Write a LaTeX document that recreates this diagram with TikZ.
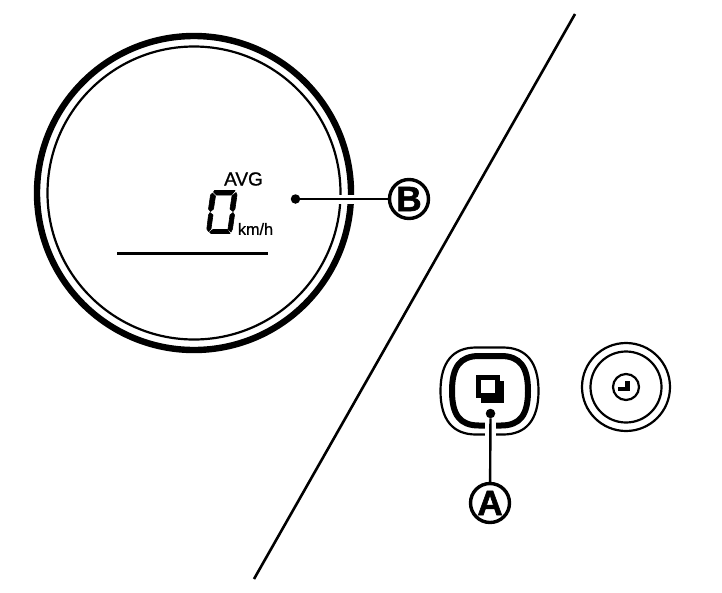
\documentclass[tikz,border=0pt]{standalone}
\usepackage{fontspec}
\setmainfont{Liberation Sans}
\newfontfamily\heavyfont[FakeBold=1.6]{Liberation Sans Bold}
\newfontfamily\semifont[FakeBold=0.9]{Liberation Sans}
\tikzset{
  ringthin/.style={draw=black,line width=2.2pt},
  ringthick/.style={draw=black,line width=6.4pt},
  leader/.style={draw=black,line width=2.4pt},
  tipdot/.style={circle,fill=black,inner sep=0pt,minimum size=9.5pt},
  callout/.style={circle,draw=black,line width=3.4pt,fill=white,minimum size=39pt,inner sep=0pt,font=\fontsize{35}{35}\heavyfont},
  seg/.style={fill=black,draw=black,line width=.6pt,line join=round}
}
\begin{document}
\begin{tikzpicture}[x=1pt,y=-1pt]
\useasboundingbox (0,0) rectangle (722,592);
\fill[white] (0,0) rectangle (722,592);
% gauge
\draw[ringthick] (194,193) circle (157);
\draw[ringthin] (194,193) circle (146.5);
% divider
\coordinate (d1) at (575,14);
\coordinate (d2) at (254,579);
\draw[black,line width=2.6pt] (d1) -- (d2);
% bar
\coordinate (b1) at (117,253);
\coordinate (b2) at (268,253);
\draw[black,line width=3pt] (b1) -- (b2);
% texts
\node[inner sep=0pt,font=\fontsize{19}{19}\semifont] (avg) at (243.5,179) {AVG};
\node[inner sep=0pt,font=\fontsize{16.2}{16.2}\semifont] (kmh) at (255.5,229) {km/h};
% seven-segment 0
\fill[seg] (214.5,190.5) -- (235,190.5) -- (234,192) -- (231.5,195) -- (216.5,195) -- (213.5,192) -- cycle;
\fill[seg] (212.5,193) -- (215.5,196) -- (213.5,209) -- (210.5,211.5) -- (208.5,209) -- (210.5,195) -- cycle;
\fill[seg] (236,192.5) -- (237,195) -- (235,209) -- (233,211.5) -- (230,209) -- (232,196) -- cycle;
\fill[seg] (210,212.5) -- (213,215) -- (211,229) -- (208.5,231.5) -- (206.8,229) -- (208.5,215) -- cycle;
\fill[seg] (233,212.5) -- (234.5,215) -- (232.5,229) -- (231,232) -- (228,229) -- (230,215) -- cycle;
\fill[seg] (213,229.5) -- (227.5,229.5) -- (230,233.5) -- (211,233.5) -- (209.5,232) -- cycle;
% button A
\draw[ringthin] (440.5,391) .. controls (440.5,362) and (453,347.5) .. (476,347.5) -- (503,347.5) .. controls (526,347.5) and (538.5,362) .. (538.5,391) .. controls (538.5,420) and (526,434.5) .. (503,434.5) -- (476,434.5) .. controls (453,434.5) and (440.5,420) .. (440.5,391) -- cycle;
\draw[black,line width=6pt] (452,391) .. controls (452,367) and (460,356) .. (479,356) -- (501,356) .. controls (520,356) and (528,367) .. (528,391) .. controls (528,415) and (520,425.5) .. (501,425.5) -- (479,425.5) .. controls (460,425.5) and (452,415) .. (452,391) -- cycle;
% icon
\fill[black] (481,381) rectangle (504,403);
\fill[black] (476,375) rectangle (500,398);
\fill[white] (481,380) rectangle (495,393);
% clock button
\draw[ringthin] (626,387) circle (44);
\draw[ringthin] (626,387) circle (35.5);
\draw[ringthin] (626,387) circle (13);
\fill[black] (625,380.5) rectangle (629.5,390.5);
\fill[black] (618,386.5) rectangle (629.5,390.5);
% callouts and leaders
\node[tipdot] (dotB) at (295.5,199) {};
\node[callout] (B) at (409,199) {B};
\node[tipdot] (dotA) at (490.5,413.5) {};
\node[callout] (A) at (490,503) {A};
\fill[white] (336,195) rectangle (358,204);
\fill[white] (484.5,421) rectangle (496,440);
\draw[leader] (dotB) -- (B);
\draw[leader] (dotA) -- (A);
\end{tikzpicture}
\end{document}
